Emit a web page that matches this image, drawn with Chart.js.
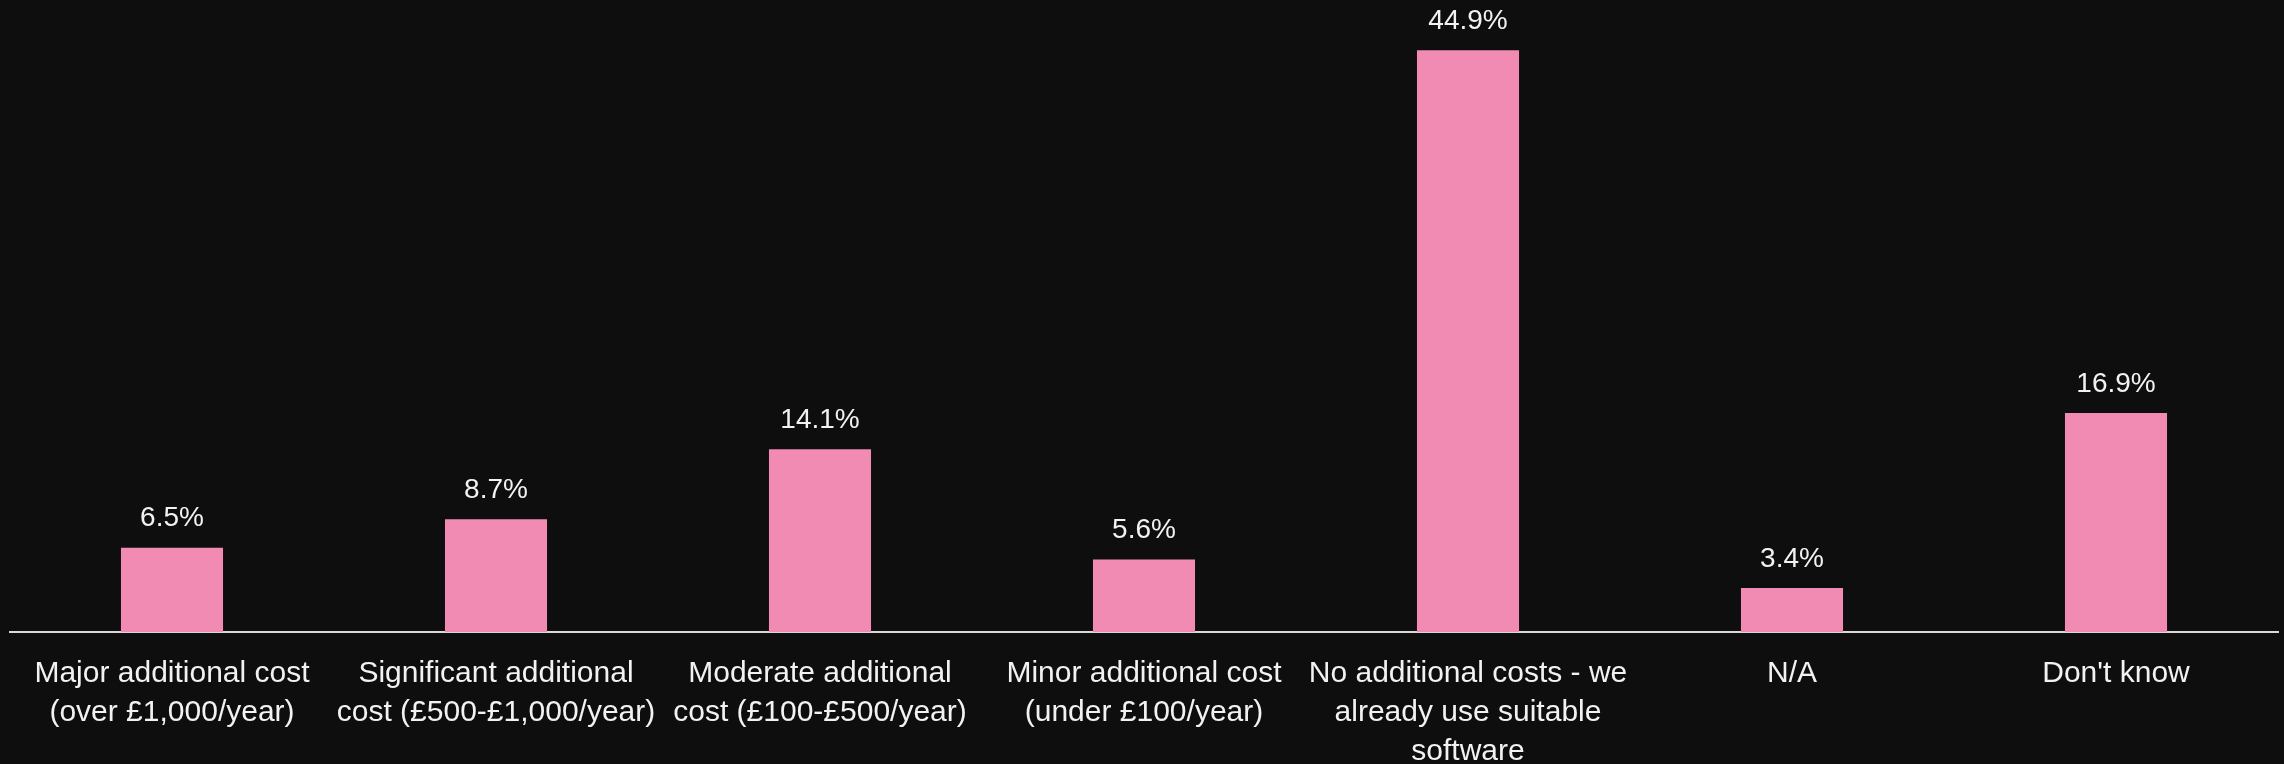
<!DOCTYPE html>
<html>
<head>
<meta charset="utf-8">
<script src="https://cdn.jsdelivr.net/npm/chart.js@4"></script>
<style>
  html, body { margin: 0; padding: 0; background: #0e0e0e; }
  #wrap { width: 2284px; height: 764px; }
</style>
</head>
<body>
<div id="wrap"><canvas id="cost-chart"></canvas></div>
<script>
// Survey answers: expected extra software cost
const categories = [
    ['Major additional cost', '(over £1,000/year)'],
    ['Significant additional', 'cost (£500-£1,000/year)'],
    ['Moderate additional', 'cost (£100-£500/year)'],
    ['Minor additional cost', '(under £100/year)'],
    ['No additional costs - we', 'already use suitable', 'software'],
    ['N/A'],
    ["Don't know"]
];
const shares = [6.5, 8.7, 14.1, 5.6, 44.9, 3.4, 16.9];

const FONT = "'Liberation Sans Narrow', 'Arial Narrow', 'Liberation Sans', sans-serif";
const TEXT = '#f2f2f2';

// Percent labels above each bar
const valueLabels = {
    id: 'valueLabels',
    afterDatasetsDraw(chart) {
        const ctx = chart.ctx;
        const meta = chart.getDatasetMeta(0);
        ctx.save();
        ctx.fillStyle = TEXT;
        ctx.font = '28px ' + FONT;
        ctx.textAlign = 'center';
        ctx.textBaseline = 'middle';
        meta.data.forEach((bar, i) => {
            ctx.fillText(shares[i].toFixed(1) + '%', bar.x, bar.y - 29);
        });
        ctx.restore();
    }
};

const ctx = document.getElementById('cost-chart').getContext('2d');
const costChart = new Chart(ctx, {
    type: 'bar',
    data: {
        labels: categories,
        datasets: [{
            data: shares,
            backgroundColor: '#f28bb3',
            borderWidth: 0,
            categoryPercentage: 1,
            barPercentage: 0.315
        }]
    },
    options: {
        responsive: true,
        maintainAspectRatio: false,
        animation: false,
        layout: { padding: { top: 10, left: 10, right: 6, bottom: 0 } },
        plugins: {
            legend: { display: false },
            tooltip: { enabled: false }
        },
        scales: {
            x: {
                grid: { display: false, drawTicks: false },
                border: { display: true, color: '#d9d9d9', width: 2 },
                ticks: {
                    color: TEXT,
                    font: { family: FONT, size: 30, lineHeight: 1.3 },
                    padding: 22,
                    maxRotation: 0,
                    minRotation: 0,
                    autoSkip: false
                },
                afterFit(scale) { scale.height = 132; }
            },
            y: {
                display: false,
                min: 0,
                max: 48
            }
        }
    },
    plugins: [valueLabels]
});
</script>
</body>
</html>
